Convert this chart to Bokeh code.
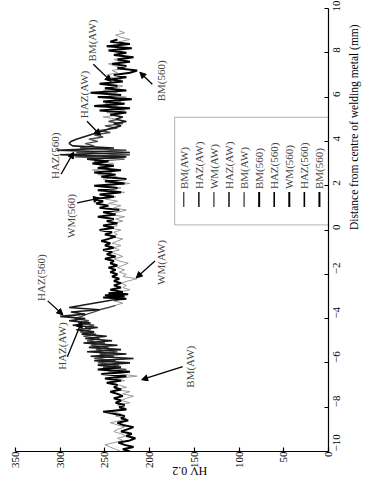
import math
from bokeh.plotting import figure
from bokeh.models import Range1d, Label, Arrow, NormalHead, BoxAnnotation, FixedTicker
from bokeh.embed import file_html
from bokeh.resources import INLINE

FONT = "Liberation Serif"

# ---------------- data ----------------
hv_ticks = [0, 50, 100, 150, 200, 250, 300, 350]
dist_ticks = [-10, -8, -6, -4, -2, 0, 2, 4, 6, 8, 10]

# As-welded (AW)
d_bm_aw_l = [-10.0, -9.9, -9.8, -9.7, -9.6, -9.5, -9.4, -9.3, -9.2, -9.1,
             -9.0, -8.9, -8.8, -8.7, -8.6, -8.5, -8.4, -8.3, -8.2, -8.1,
             -8.0, -7.9, -7.8, -7.7, -7.6, -7.5, -7.4, -7.3, -7.2, -7.1,
             -7.0, -6.9, -6.8, -6.7, -6.6, -6.5, -6.4, -6.3]
hv_bm_aw_l = [232, 238, 244, 250, 240, 230, 236, 226, 232, 240,
              236, 228, 236, 244, 232, 226, 238, 232, 242, 234,
              228, 236, 222, 232, 226, 218, 230, 222, 238, 226,
              234, 244, 228, 238, 214, 232, 246, 226]

d_haz_aw_l = [-6.3, -6.2, -6.1, -6.0, -5.9, -5.8, -5.7, -5.6, -5.5, -5.4,
              -5.3, -5.2, -5.1, -5.0, -4.9, -4.8, -4.7, -4.6, -4.5, -4.4,
              -4.3, -4.2, -4.1, -4.0, -3.9, -3.8, -3.7, -3.6, -3.5, -3.4]
hv_haz_aw_l = [226, 252, 234, 258, 238, 262, 240, 256, 236, 260,
               246, 266, 250, 270, 256, 274, 260, 278, 266, 272,
               262, 280, 268, 284, 276, 270, 262, 256, 246, 238]

d_wm_aw = [-3.4, -3.3, -3.2, -3.1, -3.0, -2.9, -2.8, -2.7, -2.6, -2.5,
           -2.4, -2.3, -2.2, -2.1, -2.0, -1.9, -1.8, -1.7, -1.6, -1.5,
           -1.4, -1.3, -1.2, -1.1, -1.0, -0.9, -0.8, -0.7, -0.6, -0.5,
           -0.4, -0.3, -0.2, -0.1, 0.0, 0.1, 0.2, 0.3, 0.4, 0.5,
           0.6, 0.7, 0.8, 0.9, 1.0, 1.1, 1.2, 1.3, 1.4, 1.5,
           1.6, 1.7, 1.8, 1.9, 2.0, 2.1, 2.2, 2.3, 2.4, 2.5,
           2.6, 2.7, 2.8, 2.9, 3.0, 3.1]
hv_wm_aw = [238, 230, 240, 228, 236, 226, 234, 222, 230, 226,
            232, 224, 214, 230, 226, 234, 228, 236, 230, 224,
            234, 240, 230, 236, 244, 234, 240, 232, 242, 236,
            230, 244, 236, 240, 232, 246, 236, 242, 230, 238,
            228, 244, 236, 226, 240, 232, 246, 236, 250, 238,
            248, 228, 244, 232, 250, 222, 242, 252, 236, 258,
            242, 264, 246, 256, 240, 262]

d_haz_aw_r = [3.1, 3.2, 3.3, 3.4, 3.5, 3.6, 3.7, 3.8,
              3.9, 4.0, 4.1, 4.2, 4.3, 4.4, 4.5, 4.6, 4.7, 4.8,
              4.9, 5.0]
hv_haz_aw_r = [262, 228, 284, 222, 282, 226, 278, 262,
               272, 258, 268, 252, 262, 244, 256, 236, 250, 230,
               246, 236]

d_bm_aw_r = [5.0, 5.1, 5.2, 5.3, 5.4, 5.5, 5.6, 5.7, 5.8, 5.9,
             6.0, 6.1, 6.2, 6.3, 6.4, 6.5, 6.6, 6.7, 6.8, 6.9,
             7.0, 7.1, 7.2, 7.3, 7.4, 7.5, 7.6, 7.7, 7.8, 7.9,
             8.0, 8.1, 8.2, 8.3, 8.4, 8.5, 8.6, 8.7, 8.8, 8.9,
             9.0]
hv_bm_aw_r = [236, 252, 234, 248, 228, 244, 236, 250, 232, 240,
              226, 246, 236, 252, 240, 230, 246, 238, 232, 244,
              248, 236, 242, 228, 238, 246, 232, 240, 226, 238,
              232, 244, 230, 238, 226, 234, 222, 232, 238, 228,
              234]

# Heat treated at 560 C
d_bm560_l = [-10.0, -9.9, -9.8, -9.7, -9.6, -9.5, -9.4, -9.3, -9.2, -9.1,
             -9.0, -8.9, -8.8, -8.7, -8.6, -8.5, -8.4, -8.3, -8.2, -8.1,
             -8.0, -7.9, -7.8, -7.7, -7.6, -7.5, -7.4, -7.3, -7.2, -7.1,
             -7.0, -6.9, -6.8, -6.7, -6.6, -6.5, -6.4, -6.3, -6.2]
hv_bm560_l = [222, 230, 218, 228, 235, 222, 216, 226, 220, 232,
              225, 218, 230, 236, 224, 232, 228, 240, 252, 226,
              234, 228, 238, 232, 240, 230, 236, 244, 232, 240,
              236, 248, 232, 250, 226, 254, 222, 258, 232]

d_haz560_l = [-6.2, -6.1, -6.0, -5.9, -5.8, -5.7, -5.6, -5.5, -5.4, -5.3,
              -5.2, -5.1, -5.0, -4.9, -4.8, -4.7, -4.6, -4.5, -4.4, -4.3,
              -4.2, -4.1, -4.0, -3.9, -3.8, -3.7, -3.6, -3.5, -3.15]
hv_haz560_l = [232, 258, 222, 262, 218, 266, 226, 270, 232, 268,
               236, 274, 242, 272, 248, 276, 262, 282, 258, 286,
               266, 290, 272, 300, 272, 288, 256, 290, 240]

d_wm560 = [-3.15, -3.1, -3.05, -3.0, -2.95, -2.9, -2.85, -2.8, -2.7, -2.6,
           -2.5, -2.4, -2.3, -2.2, -2.1, -2.0, -1.9, -1.8, -1.7, -1.6,
           -1.5, -1.4, -1.3, -1.2, -1.1, -1.0, -0.9, -0.8, -0.7, -0.6,
           -0.5, -0.4, -0.3, -0.2, -0.1, 0.0, 0.1, 0.2, 0.3, 0.4,
           0.5, 0.6, 0.7, 0.8, 0.9, 1.0, 1.1, 1.2, 1.3, 1.4,
           1.5, 1.6, 1.7, 1.8, 1.9, 2.0, 2.1, 2.2, 2.3, 2.4,
           2.5, 2.6, 2.7, 2.8, 2.9, 3.0, 3.1, 3.2]
hv_wm560 = [240, 226, 252, 228, 250, 224, 246, 230, 244, 232,
            240, 232, 240, 234, 242, 236, 244, 238, 246, 236,
            244, 240, 250, 238, 248, 242, 252, 240, 250, 244,
            254, 246, 238, 250, 242, 256, 240, 252, 236, 248,
            240, 258, 238, 252, 234, 256, 246, 260, 252, 262,
            240, 256, 232, 258, 236, 262, 228, 250, 226, 254,
            238, 262, 232, 258, 240, 264, 246, 270]

d_haz560_r = [3.2, 3.3, 3.4, 3.5, 3.6, 3.7, 3.8, 3.9, 4.0, 4.1,
              4.2, 4.3, 4.4, 4.5, 4.6, 4.7, 4.8, 4.9, 5.0, 5.1,
              5.2]
hv_haz560_r = [270, 226, 300, 222, 304, 240, 286, 290, 288, 282,
               274, 266, 258, 250, 242, 232, 240, 226, 238, 230,
               244]

d_bm560_r = [5.2, 5.3, 5.4, 5.5, 5.6, 5.7, 5.8, 5.9, 6.0, 6.1,
             6.2, 6.3, 6.4, 6.5, 6.6, 6.7, 6.8, 6.9, 7.0, 7.1,
             7.2, 7.3, 7.4, 7.5, 7.6, 7.7, 7.8, 7.9, 8.0, 8.1,
             8.2, 8.3, 8.4, 8.5, 8.6]
hv_bm560_r = [244, 226, 256, 222, 262, 228, 252, 220, 258, 232,
              266, 226, 250, 236, 256, 230, 244, 226, 240, 222,
              214, 236, 226, 242, 222, 236, 218, 240, 226, 246,
              220, 248, 222, 244, 236]

series_names = ["BM(AW)", "HAZ(AW)", "WM(AW)", "HAZ(AW)", "BM(AW)",
                "BM(560)", "HAZ(560)", "WM(560)", "HAZ(560)", "BM(560)"]
series_data = [(d_bm_aw_l, hv_bm_aw_l), (d_haz_aw_l, hv_haz_aw_l), (d_wm_aw, hv_wm_aw),
               (d_haz_aw_r, hv_haz_aw_r), (d_bm_aw_r, hv_bm_aw_r),
               (d_bm560_l, hv_bm560_l), (d_haz560_l, hv_haz560_l), (d_wm560, hv_wm560),
               (d_haz560_r, hv_haz560_r), (d_bm560_r, hv_bm560_r)]
series_colors = ["#9a9a9a", "#4a4a4a", "#9a9a9a", "#4a4a4a", "#9a9a9a",
                 "#000000", "#1a1a1a", "#000000", "#1a1a1a", "#000000"]
series_widths = [1.0, 1.4, 1.0, 1.4, 1.0, 2.0, 1.6, 2.0, 1.6, 2.0]

# annotations: text, text position (hv, d), arrow tail (hv, d), arrow head (hv, d)
notes = [
    ("HAZ(AW)", (273, 5.05), (270, 4.91), (255, 4.28)),
    ("BM(AW)", (265, 7.61), (263, 7.48), (243, 6.71)),
    ("BM(560)", (187, 5.81), (197, 6.58), (211, 7.12)),
    ("HAZ(560)", (306, 2.30), (299, 2.52), (285, 3.51)),
    ("WM(560)", (288, -0.36), (281, 1.22), (256, 1.44)),
    ("WM(AW)", (187, -2.48), (194, -1.40), (215, -2.16)),
    ("HAZ(560)", (322, -3.20), (314, -3.20), (297, -3.83)),
    ("HAZ(AW)", (298, -6.31), (292, -5.72), (276, -4.14)),
    ("BM(AW)", (155, -7.12), (163, -6.17), (209, -6.76)),
]

# ---------------- figure ----------------
p = figure(width=368, height=488, x_range=Range1d(350, 0), y_range=Range1d(-10, 10),
           output_backend="svg", toolbar_location=None, y_axis_location="right",
           min_border_left=15, min_border_right=35, min_border_top=8, min_border_bottom=34)
p.xgrid.visible = False
p.ygrid.visible = False
p.outline_line_color = None

for ax, ticks in ((p.xaxis[0], hv_ticks), (p.yaxis[0], dist_ticks)):
    ax.ticker = FixedTicker(ticks=ticks)
    ax.major_label_orientation = math.pi / 2
    ax.major_tick_in = 4
    ax.major_tick_out = 0
    ax.minor_tick_line_color = None
    ax.axis_line_width = 1.2
    ax.major_tick_line_width = 1.2
    ax.major_label_text_font = FONT
    ax.major_label_text_font_size = "11px"
    ax.major_label_text_color = "black"
    ax.axis_line_color = "black"
    ax.axis_label_text_font = FONT
    ax.axis_label_text_font_style = "normal"
    ax.axis_label_text_color = "black"
p.xaxis.major_label_standoff = 0
p.yaxis.major_label_standoff = 8

p.xaxis.axis_label = "HV 0.2"
p.xaxis.axis_label_orientation = math.pi
p.xaxis.axis_label_text_font_size = "12px"
p.xaxis.axis_label_standoff = 0
p.yaxis.axis_label = "Distance from centre of welding metal (mm)"
p.yaxis.axis_label_orientation = math.pi / 2
p.yaxis.axis_label_text_font_size = "11.5px"
p.yaxis.axis_label_standoff = 7

for i in range(len(series_data)):
    d, hv = series_data[i]
    p.line(hv, d, line_color=series_colors[i], line_width=series_widths[i])

# legend box with rotated entries
p.add_layout(BoxAnnotation(left=172, right=0, bottom=0.23, top=5.09, fill_color=None,
                           line_color="black", line_width=1))
leg_hv0, leg_step = 161.8, 16.85
for i, name in enumerate(series_names):
    hv = leg_hv0 - i * leg_step
    p.line([hv, hv], [1.04, 1.71], line_color="black", line_width=series_widths[i])
    p.add_layout(Label(x=hv, y=1.85, text=name, angle=math.pi / 2, text_align="left",
                       text_baseline="middle", text_font=FONT, text_font_size="11px"))

for text, (tx, ty), (ax0, ay0), (ax1, ay1) in notes:
    p.add_layout(Label(x=tx, y=ty, text=text, angle=math.pi / 2, text_align="left",
                       text_baseline="middle", text_font=FONT, text_font_size="11px"))
    p.add_layout(Arrow(x_start=ax0, y_start=ay0, x_end=ax1, y_end=ay1, line_width=1.3,
                       end=NormalHead(size=6, fill_color="black", line_color="black")))

open("out.html", "w").write(file_html(p, INLINE))
